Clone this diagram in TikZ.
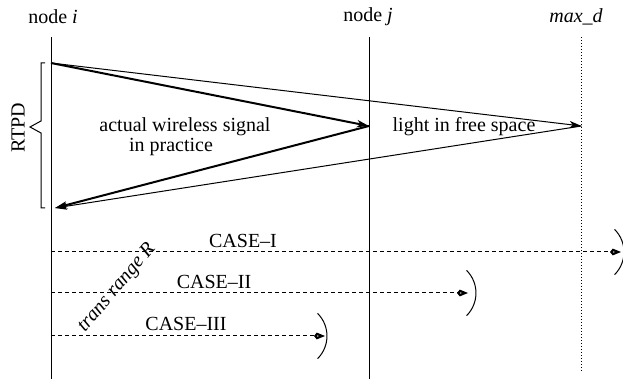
\documentclass[tikz,border=0pt]{standalone}
\usepackage{fontspec}
\setmainfont{Liberation Serif}
\usepackage{tikz}
\tikzset{every picture/.style={x=0.5pt,y=-0.5pt}}
\usetikzlibrary{arrows.meta}
\tikzset{
  sig/.style={-{Stealth[length=6pt,width=3.6pt,inset=1.6pt]}},
  casearrow/.style={dash pattern=on 2pt off 1.5pt, line width=0.5pt,
    -{Kite[open,length=5.5pt,width=3.4pt,line width=1.1pt]}},
}

\begin{document}
\begin{tikzpicture}
    \useasboundingbox (0,0) rectangle (623,379);
    % node lines
    \node (ni) at (53,17) {node \textit{i}};
    \node (nj) at (368,17) {node \textit{j}};
    \node (nm) at (576,17) {\textit{max\_d}};
    \draw[line width=0.5pt] (51,37) coordinate (itop) -- (51,379) coordinate (ibot);
    \draw[line width=0.5pt] (369,37) coordinate (jtop) -- (369,379) coordinate (jbot);
    \draw[line width=0.5pt, dash pattern=on 0.5pt off 1pt] (581.5,37) coordinate (mtop) -- (581.5,373) coordinate (mbot);
    % signals
    \coordinate (s0) at (51,63);
    \coordinate (sj) at (369,126);
    \coordinate (sm) at (581.5,126);
    \coordinate (sr) at (55,208);
    \draw[sig, line width=1pt] (s0) -- (sj);
    \draw[sig, line width=1pt] (sj) -- (sr);
    \draw[sig, line width=0.5pt] (s0) -- (sm);
    \draw[sig, line width=0.5pt] (sm) -- (sr);
    \node (aws) at (185,127) {actual wireless signal};
    \node (inp) at (171,147) {in practice};
    \node (lfs) at (464,127) {light in free space};
    % RTPD brace
    \draw[line width=0.5pt] (45,63) -- (41,63) -- (41,121) -- (30,127) -- (41,133) -- (41,208) -- (45,208);
    \node[rotate=90] (rtpd) at (18,128) {RTPD};
    % cases
    \foreach \y/\t/\m/\lbl/\lx/\ly in {252/621/624/CASE--I/243/241,
                                         293/468/476/CASE--II/214/282,
                                         336/325/327/CASE--III/186/324}{
      \draw[casearrow] (51,\y) -- (\t,\y);
      \draw[line width=0.5pt] (\m-9.4,\y-22.6) arc[start angle=-45, end angle=45, radius=32];
      \node (case\y) at (\lx,\ly) {\lbl};
    }
    \node[rotate=50, inner sep=0pt] (trr) at (117,288) {\textit{trans range R}};
\end{tikzpicture}
\end{document}
